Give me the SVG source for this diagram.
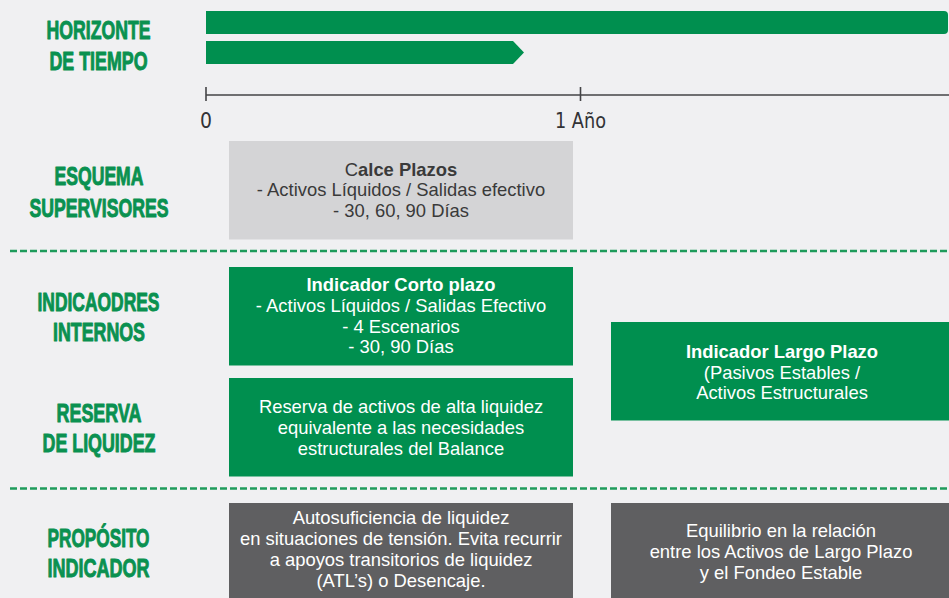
<svg xmlns="http://www.w3.org/2000/svg" width="949" height="598" viewBox="0 0 949 598">
<style>
.lbl{font-family:"Liberation Sans",Arial,sans-serif;font-weight:bold;font-size:26.5px;fill:#0a9150;stroke:#0a9150;stroke-width:1;stroke-linejoin:round;text-anchor:middle}
.ax{font-family:"DejaVu Sans",sans-serif;font-stretch:condensed;font-size:21px;fill:#333336}
.t{font-family:"Liberation Sans",Arial,sans-serif;font-size:18.4px;text-anchor:middle}
.w{fill:#ffffff}
.d{fill:#3a3a3a}
.b{font-weight:bold}
.green{fill:#008f4f}
.dark{fill:#5f5f61}
.light{fill:#d4d4d6}
.dash{stroke:#1e9b5b;stroke-width:2.5;stroke-dasharray:7 3;fill:none}
.axis{stroke:#444446;stroke-width:1.6;fill:none}
</style>
<rect width="949" height="598" fill="#f0f0f2"/>

<g id="labels">
<g id="label-horizonte">
<text class="lbl" x="98.5" y="38.5" textLength="104" lengthAdjust="spacingAndGlyphs">HORIZONTE</text>
<text class="lbl" x="98.5" y="69.5" textLength="98" lengthAdjust="spacingAndGlyphs">DE TIEMPO</text>
</g>
<g id="label-esquema">
<text class="lbl" x="99" y="184.5" textLength="89" lengthAdjust="spacingAndGlyphs">ESQUEMA</text>
<text class="lbl" x="99" y="216.5" textLength="139" lengthAdjust="spacingAndGlyphs">SUPERVISORES</text>
</g>
<g id="label-indicadores">
<text class="lbl" x="98.5" y="311" textLength="122" lengthAdjust="spacingAndGlyphs">INDICAODRES</text>
<text class="lbl" x="99" y="341" textLength="92" lengthAdjust="spacingAndGlyphs">INTERNOS</text>
</g>
<g id="label-reserva">
<text class="lbl" x="99" y="421.5" textLength="85" lengthAdjust="spacingAndGlyphs">RESERVA</text>
<text class="lbl" x="99" y="452" textLength="113" lengthAdjust="spacingAndGlyphs">DE LIQUIDEZ</text>
</g>
<g id="label-proposito">
<text class="lbl" x="98.5" y="547" textLength="102" lengthAdjust="spacingAndGlyphs">PROPÓSITO</text>
<text class="lbl" x="98.5" y="577" textLength="102" lengthAdjust="spacingAndGlyphs">INDICADOR</text>
</g>
</g>

<g id="timeline">
<path class="green" d="M206 11 H944 Q948 11 948 15 V30 Q948 34 944 34 H206 Z"/>
<polygon class="green" points="206,41 513,41 524,52.5 513,64 206,64"/>
<line class="axis" x1="206" y1="95" x2="949" y2="95"/>
<line class="axis" x1="206" y1="87" x2="206" y2="101"/>
<line class="axis" x1="580.5" y1="87" x2="580.5" y2="101"/>
<text class="ax" x="206" y="128" text-anchor="middle" textLength="12" lengthAdjust="spacingAndGlyphs">0</text>
<text class="ax" x="555" y="128" textLength="51" lengthAdjust="spacingAndGlyphs">1 Año</text>
</g>

<g id="connectors">
<line class="dash" x1="10" y1="251" x2="949" y2="251"/>
<line class="dash" x1="10" y1="488.5" x2="949" y2="488.5"/>
</g>

<g id="calce">
<rect class="light" x="229" y="141" width="344" height="98.5"/>
<text class="t d"><tspan x="401" y="175.7">C<tspan class="b">alce Plazos</tspan></tspan><tspan x="401" y="196">- Activos Líquidos / Salidas efectivo</tspan><tspan x="401" y="216.7">- 30, 60, 90 Días</tspan></text>
</g>

<g id="corto">
<rect class="green" x="229" y="267" width="344" height="98.5"/>
<text class="t w"><tspan class="b" x="401" y="291">Indicador Corto plazo</tspan><tspan x="401" y="312">- Activos Líquidos / Salidas Efectivo</tspan><tspan x="401" y="332.5">- 4 Escenarios</tspan><tspan x="401" y="353">- 30, 90 Días</tspan></text>
</g>

<g id="reserva">
<rect class="green" x="229" y="378" width="344" height="98.5"/>
<text class="t w"><tspan x="401" y="412.5">Reserva de activos de alta liquidez</tspan><tspan x="401" y="433.5">equivalente a las necesidades</tspan><tspan x="401" y="454.5">estructurales del Balance</tspan></text>
</g>

<g id="largo">
<rect class="green" x="611" y="322" width="338" height="98.5"/>
<text class="t w"><tspan class="b" x="782" y="358.3">Indicador Largo Plazo</tspan><tspan x="782" y="378.5">(Pasivos Estables /</tspan><tspan x="782" y="399">Activos Estructurales</tspan></text>
</g>

<g id="proposito-corto">
<rect class="dark" x="229" y="503" width="344" height="95"/>
<text class="t w"><tspan x="401" y="524">Autosuficiencia de liquidez</tspan><tspan x="401" y="545">en situaciones de tensión. Evita recurrir</tspan><tspan x="401" y="566">a apoyos transitorios de liquidez</tspan><tspan x="401" y="587">(ATL’s) o Desencaje.</tspan></text>
</g>

<g id="proposito-largo">
<rect class="dark" x="611" y="503" width="338" height="95"/>
<text class="t w"><tspan x="781" y="537">Equilibrio en la relación</tspan><tspan x="781" y="557.5">entre los Activos de Largo Plazo</tspan><tspan x="781" y="578.5">y el Fondeo Estable</tspan></text>
</g>
</svg>
